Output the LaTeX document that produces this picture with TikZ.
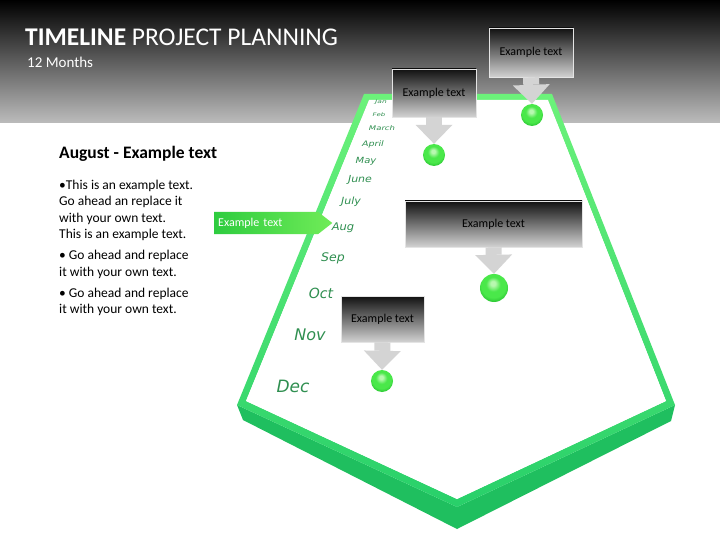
\documentclass[tikz,border=0pt]{standalone}
\usepackage{fontspec}
\setmainfont{Carlito}
\newfontfamily\monthfont{DejaVu Sans}
\usepackage{tikz}
\usepackage{xcolor}
\usetikzlibrary{arrows.meta,shapes.symbols}
\definecolor{headgray}{HTML}{BCBCBC}
\definecolor{rimlight}{HTML}{6CF27A}
\definecolor{rimdark}{HTML}{28D06A}
\definecolor{slabside}{HTML}{1FBF5F}
\definecolor{monthgreen}{HTML}{2F8F50}
\definecolor{boxtop}{HTML}{111111}
\definecolor{boxbot}{HTML}{D2D2D2}
\definecolor{boxrim}{HTML}{E4E4E4}
\definecolor{tipgray}{HTML}{D4D4D4}
\definecolor{ballhi}{HTML}{B8F8B0}
\definecolor{ballgreen}{HTML}{4AE84A}
\definecolor{ballrim}{HTML}{26C030}
\definecolor{tagdark}{HTML}{2ECC3F}
\definecolor{taglight}{HTML}{70EC58}
\pgfdeclareradialshading{greenball}{\pgfpoint{-2bp}{9bp}}{color(0bp)=(ballhi);
  color(4bp)=(ballhi); color(13bp)=(ballgreen); color(22bp)=(ballgreen); color(30bp)=(ballrim);
  color(50bp)=(ballrim)}
\tikzset{
  callbox/.style={draw=boxrim,line width=0.8pt,top color=boxtop,bottom color=boxbot,
                  inner sep=2pt,align=center,text=black,font=\fontsize{12}{14}\selectfont},
  calltip/.style={-{Triangle[width=37pt,length=19pt,line width=0pt]},
                  line width=16pt,draw=tipgray},
  ballnode/.style={circle,inner sep=0pt,shading=greenball},
  tagbox/.style={signal,signal to=east,signal pointer angle=76,
                 left color=tagdark,right color=taglight,text=white,
                 minimum height=22pt,text width=96pt,inner xsep=4pt,align=left,
                 font=\fontsize{12}{14}\selectfont},
  month/.style={text=monthgreen,inner sep=0pt}
}

\begin{document}
\begin{tikzpicture}[x=1pt,y=-1pt]
  \useasboundingbox (0,0) rectangle (720,540);
  \fill[white] (0,0) rectangle (720,540);
  % header band
  \shade[top color=black,bottom color=headgray] (0,0) rectangle (720,123);
  \node[anchor=base west,inner sep=0pt,text=white,font=\fontsize{25.5}{30}\selectfont] (title) at (25,46)
    {\textbf{TIMELINE} PROJECT PLANNING};
  \node[anchor=base west,inner sep=0pt,text=white,font=\fontsize{15}{18}\selectfont] (sub) at (27,68)
    {12 Months};
  % the slab: side face, rim and white top
  \fill[slabside] (237,405) -- (457,507) -- (675,405) -- (671,421) -- (457,529) -- (243,420) -- cycle;
  \shade[even odd rule,top color=rimlight,bottom color=rimdark]
    (364,94) -- (552,94) -- (675,405) -- (457,507) -- (237,405) -- cycle
    (369,100) -- (548,100) -- (666,401) -- (457,499) -- (246,401) -- cycle;
  \fill[white] (369,100) -- (548,100) -- (666,401) -- (457,499) -- (246,401) -- cycle;
  % months down the left rim
  \foreach \m/\x/\y/\s/\q in {Jan/381/102/7.5/0.65,Feb/379/115/7/0.7,March/382/128/8.5/0.75,
      April/373/144/9.5/0.8,May/366/161/10/0.85,June/360/180/11/0.88,July/351/202/11/0.9,
      Aug/343/228/11.5/0.92,Sep/333/258/12.5/0.95,Oct/321/293/14/1,Nov/310/335/16/1,
      Dec/293/386/17/1} {
    \node[month,font=\monthfont\itshape\fontsize{\s}{\s}\selectfont] (m\m) at (\x,\y)
      {\scalebox{1}[\q]{\m}};
  }
  % callouts with their balls
  \foreach \i/\cx/\cy/\w/\h/\bx/\by/\d in {1/434/93/84/48/434/155/22,2/531/52.5/84/49/532/115/22,
      3/493.5/224/177/46/494/288/28,4/382.5/319/83/46/382/381/22} {
    \node[ballnode,minimum size=\d pt] (b\i) at (\bx,\by) {};
    \node[callbox,minimum width=\w pt,minimum height=\h pt] (c\i) at (\cx,\cy) {Example text};
    \draw[calltip] (c\i.south) -- (b\i.north);
  }
  % august note
  \node[tagbox,anchor=west] (tag) at (214,223) {Example text};
  \node[anchor=base west,inner sep=0pt,font=\bfseries\fontsize{17.5}{20}\selectfont] (head) at (59,159)
    {August - Example text};
  \node[anchor=north west,align=left,inner sep=0pt,font=\fontsize{13.5}{16.5}\selectfont] (body)
    at (59,179.5) {•This is an example text.\\Go ahead an replace it\\with your own text.\\
    This is an example text.\\[4.5pt]• Go ahead and replace\\it with your own text.\\[4.5pt]
    • Go ahead and replace\\it with your own text.};
\end{tikzpicture}
\end{document}
